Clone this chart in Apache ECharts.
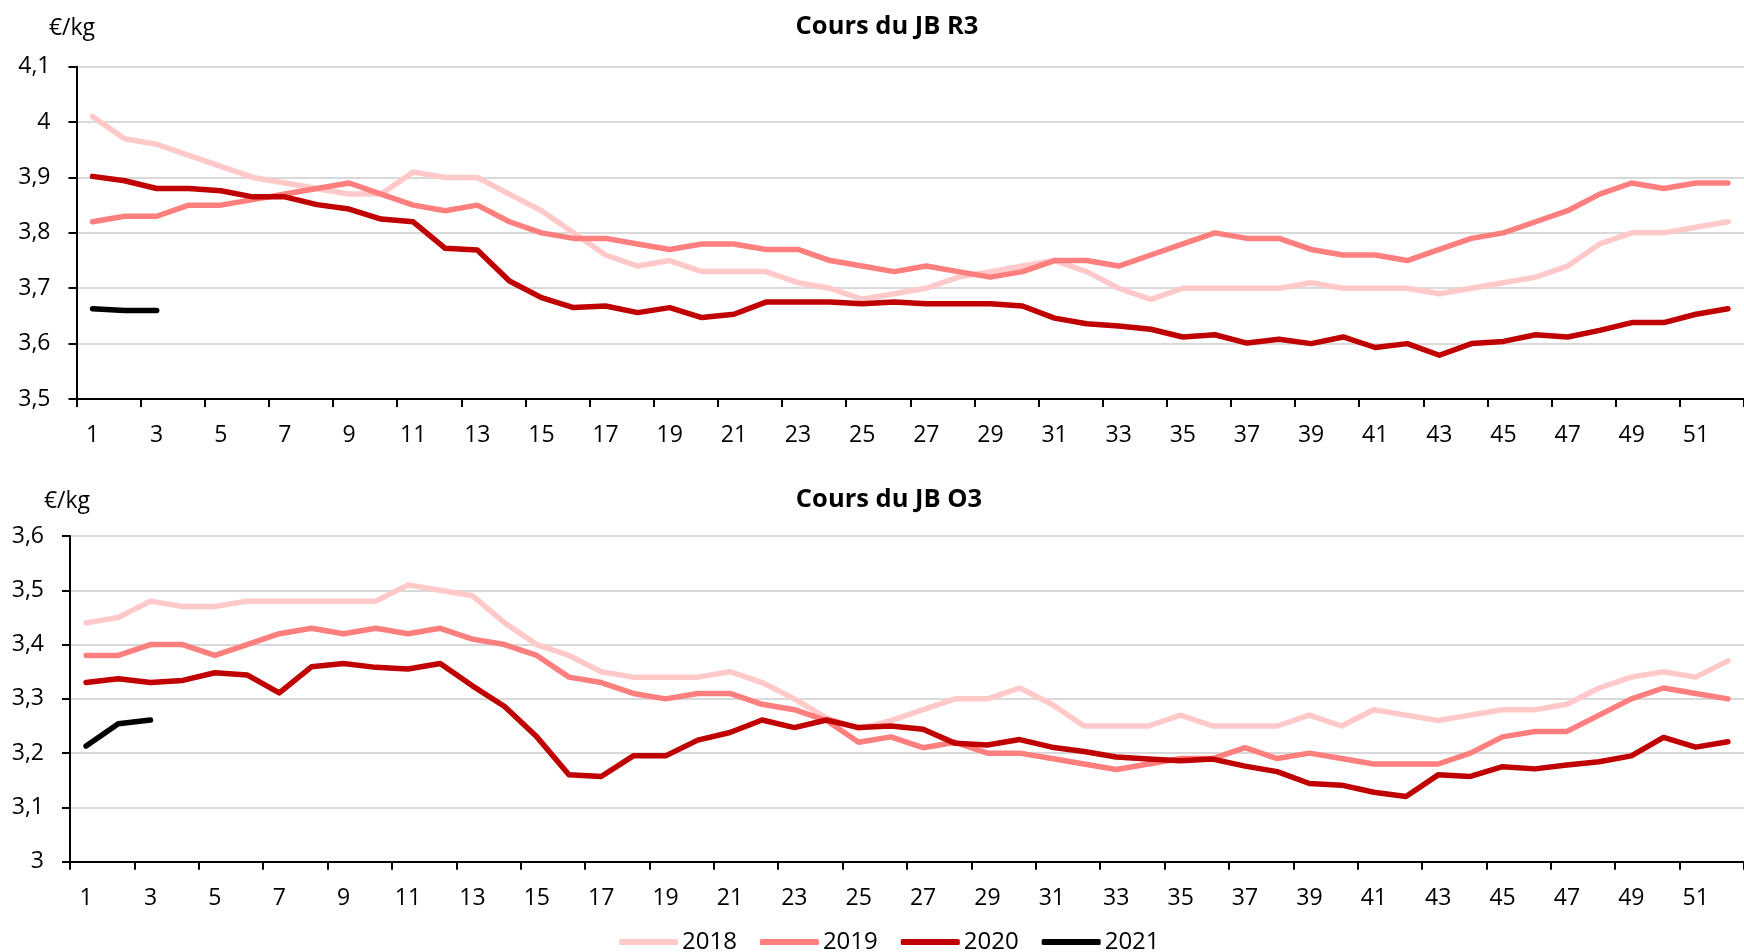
<!DOCTYPE html>
<html>
<head>
<meta charset="utf-8">
<script src="https://cdn.jsdelivr.net/npm/echarts@6/dist/echarts.min.js"></script>
<style>
html,body{margin:0;padding:0;background:#fff;}
#chart{width:1744px;height:952px;}
</style>
</head>
<body>
<div id="chart"></div>
<script>
const weeks = Array.from({length: 52}, (_, i) => String(i + 1));
const seriesNames = ['2018', '2019', '2020', '2021'];
const seriesColors = ['#FFC9C9', '#FF7F7F', '#C00000', '#000000'];
const titleR3 = 'Cours du JB R3';
const titleO3 = 'Cours du JB O3';
const unitLabel = '€/kg';

const r3_2018 = [4.01,3.97,3.96,3.94,3.92,3.90,3.89,3.88,3.87,3.87,
                 3.91,3.90,3.90,3.87,3.84,3.80,3.76,3.74,3.75,3.73,
                 3.73,3.73,3.71,3.70,3.68,3.69,3.70,3.72,3.73,3.74,
                 3.75,3.73,3.70,3.68,3.70,3.70,3.70,3.70,3.71,3.70,
                 3.70,3.70,3.69,3.70,3.71,3.72,3.74,3.78,3.80,3.80,
                 3.81,3.82];
const r3_2019 = [3.82,3.83,3.83,3.85,3.85,3.86,3.87,3.88,3.89,3.87,
                 3.85,3.84,3.85,3.82,3.80,3.79,3.79,3.78,3.77,3.78,
                 3.78,3.77,3.77,3.75,3.74,3.73,3.74,3.73,3.72,3.73,
                 3.75,3.75,3.74,3.76,3.78,3.80,3.79,3.79,3.77,3.76,
                 3.76,3.75,3.77,3.79,3.80,3.82,3.84,3.87,3.89,3.88,
                 3.89,3.89];
const r3_2020 = [3.902,3.894,3.880,3.880,3.876,3.865,3.865,3.851,3.843,3.825,
                 3.820,3.772,3.769,3.713,3.683,3.665,3.668,3.656,3.665,3.647,
                 3.653,3.675,3.675,3.675,3.672,3.675,3.672,3.672,3.672,3.668,
                 3.646,3.636,3.632,3.626,3.612,3.616,3.601,3.608,3.600,3.612,
                 3.593,3.600,3.579,3.600,3.604,3.616,3.612,3.624,3.638,3.638,
                 3.653,3.663];
const r3_2021 = [3.663,3.660,3.660];

const o3_2018 = [3.44,3.45,3.48,3.47,3.47,3.48,3.48,3.48,3.48,3.48,
                 3.51,3.50,3.49,3.44,3.40,3.38,3.35,3.34,3.34,3.34,
                 3.35,3.33,3.30,3.265,3.245,3.26,3.28,3.30,3.30,3.32,
                 3.29,3.25,3.25,3.25,3.27,3.25,3.25,3.25,3.27,3.25,
                 3.28,3.27,3.26,3.27,3.28,3.28,3.29,3.32,3.34,3.35,
                 3.34,3.37];
const o3_2019 = [3.38,3.38,3.40,3.40,3.38,3.40,3.42,3.43,3.42,3.43,
                 3.42,3.43,3.41,3.40,3.38,3.34,3.33,3.31,3.30,3.31,
                 3.31,3.29,3.28,3.26,3.22,3.23,3.21,3.22,3.20,3.20,
                 3.19,3.18,3.17,3.18,3.19,3.19,3.21,3.19,3.20,3.19,
                 3.18,3.18,3.18,3.20,3.23,3.24,3.24,3.27,3.30,3.32,
                 3.31,3.30];
const o3_2020 = [3.330,3.337,3.330,3.334,3.348,3.344,3.311,3.359,3.365,3.358,
                 3.355,3.365,3.324,3.286,3.230,3.160,3.157,3.195,3.195,3.224,
                 3.238,3.261,3.247,3.261,3.247,3.250,3.244,3.218,3.215,3.225,
                 3.211,3.203,3.193,3.189,3.186,3.189,3.176,3.166,3.144,3.141,
                 3.128,3.120,3.160,3.157,3.175,3.171,3.178,3.184,3.195,3.229,
                 3.211,3.221];
const o3_2021 = [3.213,3.254,3.261];

const r3Data = [r3_2018, r3_2019, r3_2020, r3_2021];
const o3Data = [o3_2018, o3_2019, o3_2020, o3_2021];

const FONT = 'Open Sans';
const fmt = v => String(parseFloat(v.toFixed(1))).replace('.', ',');

function xAxisCfg(gi) {
  return {
    type: 'category', gridIndex: gi, data: weeks, boundaryGap: true,
    axisLine: {show: true, lineStyle: {color: '#000', width: 2}},
    axisTick: {show: true, interval: 1, length: 8, lineStyle: {color: '#000', width: 2}},
    axisLabel: {interval: 1, margin: 25, color: '#000', fontFamily: FONT, fontSize: 23},
    splitLine: {show: false}
  };
}
function yAxisCfg(gi, min, max) {
  return {
    type: 'value', gridIndex: gi, min: min, max: max, interval: 0.1,
    axisLine: {show: true, lineStyle: {color: '#000', width: 2}},
    axisTick: {show: true, length: 8, lineStyle: {color: '#000', width: 2}},
    axisLabel: {margin: 26, color: '#000', fontFamily: FONT, fontSize: 23, formatter: fmt},
    splitLine: {show: true, lineStyle: {color: '#d9d9d9', width: 2}}
  };
}
function lineSeries(name, color, data, gi) {
  return {
    type: 'line', name: name, xAxisIndex: gi, yAxisIndex: gi, data: data,
    symbol: 'none', smooth: false, animation: false,
    lineStyle: {color: color, width: 5.5, cap: 'round', join: 'round'},
    itemStyle: {color: color}
  };
}

const series = [];
seriesNames.forEach((n, i) => series.push(lineSeries(n, seriesColors[i], r3Data[i], 0)));
seriesNames.forEach((n, i) => series.push(lineSeries(n, seriesColors[i], o3Data[i], 1)));

const chart = echarts.init(document.getElementById('chart'), null, {renderer: 'canvas'});
chart.setOption({
  animation: false,
  backgroundColor: '#fff',
  grid: [
    {left: 76.5, top: 66.7, width: 1682.2, height: 332.3, containLabel: false},
    {left: 70, top: 536, width: 1686, height: 325.7, containLabel: false}
  ],
  xAxis: [xAxisCfg(0), xAxisCfg(1)],
  yAxis: [yAxisCfg(0, 3.5, 4.1), yAxisCfg(1, 3.0, 3.6)],
  legend: {
    data: seriesNames, left: 619, top: 929, padding: 0,
    itemWidth: 59, itemHeight: 6, itemGap: 23, icon: 'roundRect',
    textStyle: {color: '#000', fontFamily: FONT, fontSize: 24, lineHeight: 26, padding: [0, 0, 0, -1]}
  },
  graphic: [
    {type: 'text', x: 887, y: 27, style: {text: titleR3, fill: '#000', font: 'bold 25.5px "Open Sans"', textAlign: 'center', textVerticalAlign: 'middle'}},
    {type: 'text', x: 889, y: 500, style: {text: titleO3, fill: '#000', font: 'bold 25.5px "Open Sans"', textAlign: 'center', textVerticalAlign: 'middle'}},
    {type: 'text', x: 72, y: 28, style: {text: unitLabel, fill: '#000', font: '23px "Open Sans"', textAlign: 'center', textVerticalAlign: 'middle'}},
    {type: 'text', x: 67, y: 501, style: {text: unitLabel, fill: '#000', font: '23px "Open Sans"', textAlign: 'center', textVerticalAlign: 'middle'}}
  ],
  series: series
});
</script>
</body>
</html>
